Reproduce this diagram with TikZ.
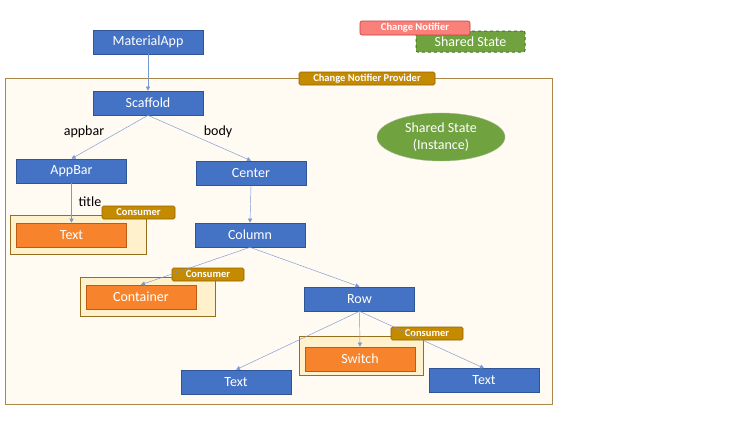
\documentclass[tikz,border=0pt]{standalone}
\usepackage{fontspec}
\setmainfont{Carlito}
\usetikzlibrary{arrows.meta,shapes.geometric}
\definecolor{wblue}{RGB}{68,114,196}
\definecolor{wblueb}{RGB}{47,85,151}
\definecolor{worange}{RGB}{247,132,44}
\definecolor{worangeb}{RGB}{190,90,20}
\definecolor{cream}{RGB}{255,250,242}
\definecolor{creamb}{RGB}{170,135,70}
\definecolor{consfill}{RGB}{255,241,204}
\definecolor{consb}{RGB}{150,110,30}
\definecolor{gold}{RGB}{196,138,0}
\definecolor{goldb}{RGB}{150,100,0}
\definecolor{sgreen}{RGB}{112,163,64}
\definecolor{sgreenb}{RGB}{70,115,40}
\definecolor{salmon}{RGB}{250,128,122}
\definecolor{salmonb}{RGB}{200,60,60}
\definecolor{edge}{RGB}{120,152,212}
\tikzset{
  widget/.style={draw=wblueb, fill=wblue, text=white, line width=0.6pt,
    minimum width=110pt, minimum height=24pt, inner sep=0pt, font=\fontsize{14}{15}\selectfont},
  orangebox/.style={widget, draw=worangeb, fill=worange},
  consumerbox/.style={draw=consb, fill=consfill, line width=0.6pt},
  tag/.style={draw=goldb, fill=gold, text=white, rounded corners=1.5pt, line width=0.6pt,
    inner sep=0pt, font=\bfseries\fontsize{10.5}{11}\selectfont},
  link/.style={draw=edge, line width=0.45pt, -{Triangle[length=4pt,width=4pt]}},
  lbl/.style={text=black, font=\fontsize{14}{15}\selectfont, inner sep=1pt},
}
\begin{document}
\begin{tikzpicture}[x=1pt,y=-1pt]
\useasboundingbox (0,0) rectangle (740,439);
\fill[white] (0,0) rectangle (740,439);

% provider frame
\draw[draw=creamb, fill=cream, line width=0.7pt] (5,78) rectangle (552,404);
\node[tag, minimum width=136pt, minimum height=13pt] (provtag) at (367,78.5) {Change Notifier Provider};

% legend at the top
\node[draw=sgreenb, fill=sgreen, dashed, line width=1pt, rounded corners=2pt, text=white,
  minimum width=109pt, minimum height=21pt, inner sep=0pt,
  font=\fontsize{14}{15}\selectfont] (legstate) at (470.5,41.5) {Shared State};
\node[draw=salmonb, fill=salmon, text=white, rounded corners=2pt, line width=0.6pt,
  minimum width=110pt, minimum height=14pt, inner sep=0pt,
  font=\bfseries\fontsize{10.5}{11}\selectfont] (legnotifier) at (415,28) {Change Notifier};

% shared state instance
\node[ellipse, draw=sgreenb!50, fill=sgreen, text=white, minimum width=128pt, minimum height=48pt,
  inner sep=0pt, align=center, font=\fontsize{14}{17}\selectfont] (state) at (441,137)
  {Shared State\\(Instance)};

% consumer frames
\draw[consumerbox] (10,215) rectangle (146,254);
\draw[consumerbox] (80,277) rectangle (215,316);
\draw[consumerbox] (299,336) rectangle (423,375);

% widgets
\node[widget] (app) at (148,42) {MaterialApp};
\node[widget] (scaffold) at (148,103) {Scaffold};
\node[widget] (appbar) at (71.5,171) {AppBar};
\node[widget] (center) at (251,173) {Center};
\node[orangebox] (text1) at (71.5,235) {Text};
\node[widget] (column) at (250,235) {Column};
\node[orangebox] (container) at (141,297) {Container};
\node[widget] (row) at (359.5,299) {Row};
\node[orangebox] (switch) at (360,359) {Switch};
\node[widget] (text2) at (236,382) {Text};
\node[widget] (text3) at (484,380.5) {Text};

% consumer tags
\node[tag, minimum width=73pt, minimum height=13pt] (cons1) at (138.5,212.5) {Consumer};
\node[tag, minimum width=72pt, minimum height=13pt] (cons2) at (208,274.5) {Consumer};
\node[tag, minimum width=72pt, minimum height=13pt] (cons3) at (427,333.5) {Consumer};

% widget tree
\draw[link] (app.south) -- (scaffold.north);
\draw[link] (scaffold.south) -- (appbar.north);
\draw[link] (scaffold.south) -- (center.north);
\draw[link] (appbar.south) -- (text1.north);
\draw[link] (center.south) -- (column.north);
\draw[link] (column.south) -- (container.north);
\draw[link] (column.south) -- (row.north);
\draw[link] (row.south) -- (switch.north);
\draw[link] (row.south) -- (text2.north);
\draw[link] (row.south) -- (text3.north);

% edge labels
\node[lbl] (lappbar) at (84,132) {appbar};
\node[lbl] (lbody) at (218,132) {body};
\node[lbl] (ltitle) at (90,202) {title};
\end{tikzpicture}
\end{document}
